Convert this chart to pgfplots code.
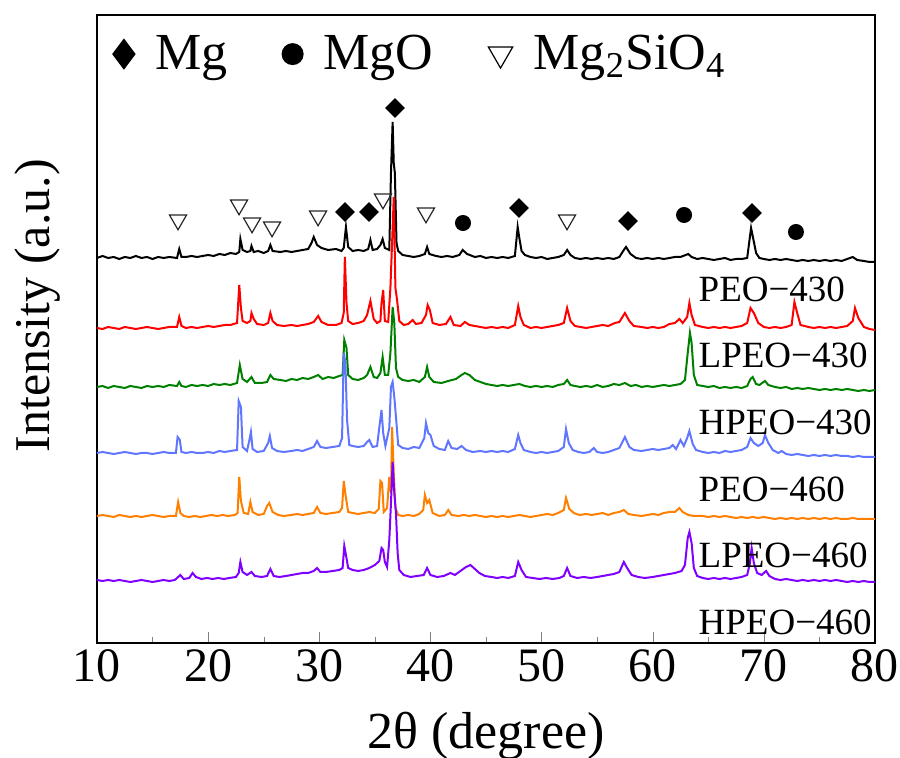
\documentclass[border=0pt]{standalone}
\usepackage{fontspec}
\setmainfont{Liberation Serif}
\usepackage{pgfplots}
\pgfplotsset{compat=1.18}
\definecolor{cgreen}{RGB}{0,128,0}
\definecolor{cblue}{RGB}{96,118,255}
\definecolor{corange}{RGB}{255,128,0}
\definecolor{cpurple}{RGB}{128,0,255}

\begin{document}
\begin{tikzpicture}
\useasboundingbox (-48.5pt,-57.5pt) rectangle (401.5pt,321.5pt);
\begin{axis}[
    scale only axis, width=389pt, height=314pt,
    xmin=10, xmax=80, ymin=0, ymax=628,
    xtick={10,20,...,80}, minor x tick num=1, xtick pos=bottom,
    ytick=\empty,
    tick align=inside, major tick length=5.5pt, minor tick length=3pt,
    /pgf/number format/assume math mode=true,
    tick label style={font=\fontsize{24}{28}\selectfont},
    xlabel={2θ (degree)}, ylabel={Intensity (a.u.)},
    label style={font=\fontsize{26}{30}\selectfont},
    xlabel style={yshift=-8pt},
    every axis y label/.style={at={(axis description cs:-0.077,0.537)}, rotate=90, anchor=center,
        font=\fontsize{25}{30}\selectfont},
    axis line style={line width=0.8pt},
    every axis plot/.append style={line width=1pt},
    legend columns=3,
    legend style={at={(axis description cs:0,1)}, anchor=north west, draw=none, fill=none,
        font=\fontsize{26}{30}\selectfont, inner xsep=8pt, inner ysep=8pt,
        /tikz/every odd column/.append style={column sep=8.5pt},
        /tikz/every even column/.append style={column sep=25.5pt}},
]
% legend symbols
\addlegendimage{only marks, mark=diamond*, mark size=7pt, black}
\addlegendentry{Mg}
\addlegendimage{only marks, mark=*, mark size=5pt, black}
\addlegendentry{MgO}
\addlegendimage{only marks, mark=triangle, mark size=7pt, mark options={rotate=180, line width=0.6pt}, black}
\addlegendentry{Mg\textsubscript{2}SiO\textsubscript{4}}

% HPEO-460 (top, black)
\addplot[black, forget plot] coordinates {
(10,385) (10.5,387) (11,385) (11.5,386) (12,384) (12.5,386) (13,385) (13.5,387) (14,385) (14.5,386) (15,384) (15.5,386) (16,385) (16.5,386) (17.2,385) (17.4,394) (17.6,386) (18,386) (18.5,387) (19,386) (19.5,387) (20,388) (20.5,387) (21,389) (21.5,388) (22,390) (22.5,389) (22.8,391) (22.9,404) (23.1,393) (23.5,391) (23.8,392) (23.9,397) (24.1,391) (24.5,392) (25,390) (25.4,392) (25.6,398) (25.8,392) (26.5,391) (27,392) (27.5,391) (28,392) (28.5,393) (29,394) (29.3,400) (29.5,406) (29.8,398) (30.2,395) (30.8,393) (31.5,394) (32,392) (32.2,395) (32.4,416) (32.6,396) (33,392) (33.5,393) (34,392) (34.4,394) (34.6,403) (34.8,393) (35.2,394) (35.5,398) (35.7,404) (35.9,395) (36.3,393) (36.45,470) (36.6,521) (36.7,480) (36.8,470) (36.95,400) (37.1,392) (37.5,388) (38,387) (38.5,386) (39,387) (39.5,389) (39.7,396) (39.9,389) (40.5,387) (41,386) (41.5,387) (42,386) (42.6,388) (42.9,393) (43.3,389) (44,386) (44.5,387) (45,385) (45.5,386) (46,385) (46.5,386) (47,385) (47.6,387) (47.85,416) (48.0,405) (48.2,392) (48.5,388) (49,386) (49.5,385) (50,386) (50.5,384) (51,385) (51.5,386) (52.0,388) (52.3,393) (52.6,388) (53,385) (53.5,384) (54,385) (54.5,384) (55,385) (55.5,384) (56,385) (56.5,384) (57,386) (57.4,393) (57.6,396) (58,389) (58.5,385) (59,384) (59.5,385) (60,384) (60.5,385) (61,384) (61.5,385) (62,386) (62.5,386) (63.2,389) (63.5,386) (64,384) (64.5,385) (65,384) (65.5,383) (66,384) (66.5,385) (67,383) (67.5,384) (68,384) (68.5,385) (68.85,415) (69.05,404) (69.3,390) (69.6,385) (70,384) (70.5,383) (71,384) (71.5,383) (72,384) (72.5,383) (73,382) (73.5,383) (74,382) (74.5,383) (75,382) (75.5,383) (76,382) (76.5,383) (77,382) (77.5,384) (78,386) (78.4,383) (79,382) (79.5,381) (80,381)
};
% red
\addplot[red, forget plot] coordinates {
(10,315) (10.5,314) (11,316) (11.5,315) (12,314) (12.5,316) (13,315) (13.5,314) (14,315) (14.5,316) (15,315) (15.5,314) (16,315) (16.5,316) (17.2,316) (17.4,326) (17.6,317) (18,315) (18.5,316) (19,315) (19.5,316) (20,317) (20.5,316) (21,317) (21.5,318) (22,318) (22.6,320) (22.8,358) (22.95,335) (23.1,322) (23.5,320) (23.8,322) (23.9,330) (24.1,324) (24.4,319) (25,318) (25.4,320) (25.6,330) (25.8,322) (26.2,318) (26.8,317) (27.5,318) (28,317) (28.5,318) (29,319) (29.5,321) (29.9,327) (30.2,321) (30.8,318) (31.5,318) (32.0,320) (32.2,330) (32.3,386) (32.45,340) (32.6,322) (33,319) (33.5,320) (34,322) (34.3,328) (34.6,342) (34.9,324) (35.2,320) (35.5,322) (35.6,340) (35.75,353) (35.9,322) (36.2,321) (36.4,355) (36.55,400) (36.7,446) (36.85,355) (37.0,343) (37.2,322) (37.6,318) (38,319) (38.4,323) (38.7,319) (39.2,320) (39.6,328) (39.75,338) (39.95,333) (40.2,320) (40.8,318) (41.4,319) (41.8,326) (42.1,318) (42.7,317) (43.1,321) (43.5,318) (44,317) (44.5,316) (45,315) (45.5,316) (46,315) (46.5,316) (47,315) (47.6,318) (47.9,337) (48.1,326) (48.4,318) (49,315) (49.5,316) (50,315) (50.5,316) (51,317) (51.5,318) (52.0,320) (52.3,335) (52.6,322) (53,317) (53.5,316) (54,315) (54.5,316) (55,317) (55.5,318) (56,317) (56.6,320) (57.0,321) (57.5,330) (57.9,322) (58.3,317) (59,316) (59.5,315) (60,316) (60.5,315) (61,316) (61.5,319) (62.0,320) (62.4,324) (62.7,320) (63.1,326) (63.3,340) (63.5,328) (63.8,318) (64.5,316) (65,315) (65.5,316) (66,315) (66.5,316) (67,315) (67.5,316) (68,317) (68.5,320) (68.8,335) (69.1,330) (69.5,320) (70,316) (70.5,315) (71,316) (71.5,315) (72,316) (72.5,318) (72.75,341) (73.0,330) (73.3,318) (74,316) (74.5,315) (75,316) (75.5,315) (76,316) (76.5,315) (77,316) (77.5,317) (78.0,322) (78.2,335) (78.5,325) (79,316) (79.5,314) (80,313)
};
% green
\addplot[cgreen, forget plot] coordinates {
(10,256) (10.5,257) (11,255) (11.5,257) (12,256) (12.5,255) (13,257) (13.5,256) (14,255) (14.5,257) (15,256) (15.5,257) (16,256) (16.5,258) (17.2,257) (17.4,261) (17.6,257) (18,256) (18.5,258) (19,257) (19.5,258) (20,257) (20.5,259) (21,258) (21.5,259) (22,258) (22.6,260) (22.85,278) (23.1,264) (23.5,261) (23.9,266) (24.2,260) (24.8,260) (25.3,261) (25.6,268) (25.9,264) (26.5,263) (27,262) (27.5,264) (28,263) (28.5,265) (29,264) (29.5,266) (29.9,268) (30.3,264) (30.8,266) (31.3,265) (31.8,267) (32.1,268) (32.25,303) (32.45,295) (32.6,268) (33,264) (33.5,263) (34,265) (34.3,268) (34.6,276) (34.9,266) (35.2,265) (35.5,270) (35.7,286) (35.9,268) (36.2,268) (36.4,290) (36.6,336) (36.75,320) (36.9,275) (37.1,266) (37.5,263) (38,262) (38.5,263) (39,261) (39.5,266) (39.7,276) (39.9,266) (40.3,261) (41,260) (41.6,262) (42.3,264) (42.8,268) (43.1,270) (43.5,268) (44,263) (44.5,261) (45,259) (45.5,258) (46,257) (46.5,258) (47,257) (47.5,258) (48,259) (48.5,257) (49,256) (49.5,257) (50,256) (50.5,257) (51,256) (51.5,258) (52.0,259) (52.3,263) (52.6,258) (53,257) (53.5,256) (54,257) (54.5,256) (55,258) (55.5,256) (56,257) (56.5,259) (57,258) (57.5,260) (58,257) (58.5,258) (59,256) (59.5,257) (60,256) (60.5,257) (61,258) (61.5,257) (62,258) (62.5,259) (62.9,263) (63.15,290) (63.35,310) (63.5,300) (63.7,268) (64,258) (64.5,257) (65,256) (65.5,257) (66,255) (66.5,256) (67,255) (67.5,256) (68,255) (68.5,257) (68.8,264) (69.0,266) (69.3,259) (69.6,258) (70.1,262) (70.4,258) (71,256) (71.5,255) (72,256) (72.5,254) (73,255) (73.5,254) (74,255) (74.5,254) (75,253) (75.5,254) (76,253) (76.5,254) (77,253) (77.5,254) (78,253) (78.5,252) (79,253) (79.5,252) (80,253)
};
% blue
\addplot[cblue, forget plot] coordinates {
(10,190) (10.5,191) (11,190) (11.5,189) (12,190) (12.5,191) (13,190) (13.5,189) (14,190) (14.5,190) (15,189) (15.5,190) (16,191) (16.5,190) (17.1,190) (17.25,206) (17.45,203) (17.6,191) (18,190) (18.5,191) (19,190) (19.5,190) (20,191) (20.5,190) (21,192) (21.5,191) (22,192) (22.6,193) (22.75,242) (22.95,236) (23.1,196) (23.5,192) (23.75,205) (23.85,211) (24.0,194) (24.4,191) (25.0,192) (25.4,200) (25.55,207) (25.75,195) (26.2,192) (26.8,191) (27.5,192) (28,193) (28.5,192) (29,194) (29.5,196) (29.8,202) (30.1,196) (30.6,195) (31.2,196) (31.8,197) (32.05,205) (32.2,290) (32.35,280) (32.5,223) (32.7,198) (33,197) (33.5,196) (34,197) (34.3,201) (34.5,203) (34.8,196) (35.2,197) (35.45,220) (35.6,233) (35.75,210) (35.95,197) (36.3,215) (36.45,256) (36.6,261) (36.75,246) (36.9,226) (37.1,198) (37.5,195) (38,194) (38.5,196) (39,195) (39.45,205) (39.6,220) (39.8,210) (40,208) (40.3,197) (40.8,194) (41.3,193) (41.6,202) (41.9,195) (42.4,194) (42.8,197) (43.2,193) (43.8,191) (44.5,192) (45,191) (45.5,192) (46,191) (46.5,192) (47,191) (47.6,194) (47.9,208) (48.1,200) (48.4,193) (49,191) (49.5,190) (50,191) (50.5,190) (51,191) (51.5,192) (52.0,196) (52.2,214) (52.45,200) (52.8,193) (53.3,191) (53.8,190) (54.3,191) (54.7,195) (55.0,191) (55.5,190) (56,191) (56.5,193) (57.0,195) (57.5,206) (57.9,196) (58.3,193) (59,192) (59.5,193) (60,194) (60.5,193) (61,194) (61.5,195) (61.8,198) (62.1,194) (62.5,203) (62.8,197) (63.1,205) (63.3,212) (63.6,199) (63.9,193) (64.5,191) (65,190) (65.5,191) (66,190) (66.5,192) (67,191) (67.5,192) (68,193) (68.5,196) (68.8,205) (69.1,200) (69.5,197) (69.9,200) (70.1,208) (70.4,200) (70.8,193) (71.3,190) (71.6,192) (72,189) (72.5,188) (73,189) (73.5,188) (74,187) (74.5,188) (75,187) (75.5,188) (76,187) (76.5,188) (77,187) (77.5,187) (78,186) (78.5,187) (79,186) (79.5,186) (80,186)
};
% orange
\addplot[corange, forget plot] coordinates {
(10,127) (10.5,128) (11,127) (11.5,126) (12,128) (12.5,127) (13,126) (13.5,127) (14,126) (14.5,127) (15,128) (15.5,127) (16,126) (16.5,127) (17.1,127) (17.3,141) (17.5,130) (17.8,127) (18.3,126) (18.8,127) (19.3,126) (19.8,127) (20.3,128) (20.8,127) (21.3,128) (21.8,127) (22.4,128) (22.65,130) (22.8,166) (22.95,142) (23.2,130) (23.6,129) (23.8,141) (24.0,131) (24.5,128) (25.0,129) (25.3,137) (25.5,140) (25.8,131) (26.3,128) (26.8,127) (27.5,128) (28,129) (28.5,128) (29,129) (29.5,130) (29.8,136) (30.1,130) (30.6,129) (31.2,130) (31.8,131) (32.05,135) (32.2,162) (32.4,145) (32.6,131) (33,130) (33.5,129) (34,130) (34.5,131) (35,130) (35.35,134) (35.5,162) (35.65,160) (35.8,131) (36.1,135) (36.3,166) (36.45,150) (36.55,216) (36.7,170) (36.85,135) (37.1,128) (37.5,127) (38,128) (38.5,127) (39,129) (39.35,133) (39.5,148) (39.7,140) (39.9,143) (40.2,130) (40.8,127) (41.3,128) (41.6,133) (41.9,128) (42.5,127) (43,128) (43.5,127) (44,128) (44.5,127) (45,126) (45.5,127) (46,126) (46.5,127) (47,126) (47.5,127) (48,128) (48.5,127) (49,126) (49.5,127) (50,128) (50.5,129) (51,128) (51.5,130) (52.0,133) (52.2,145) (52.5,134) (52.9,130) (53.4,128) (54,129) (54.5,128) (55,129) (55.5,130) (56,128) (56.5,130) (57.0,131) (57.4,133) (57.8,129) (58.3,128) (59,127) (59.5,128) (60,129) (60.5,128) (61,130) (61.5,131) (62.0,131) (62.4,135) (62.7,131) (63.2,128) (63.7,127) (64.5,127) (65,126) (65.5,127) (66,126) (66.5,127) (67,126) (67.5,125) (68,126) (68.5,125) (69,126) (69.5,125) (70,126) (70.5,125) (71,124) (71.5,125) (72,124) (72.5,125) (73,124) (73.5,125) (74,124) (74.5,125) (75,124) (75.5,125) (76,124) (76.5,125) (77,124) (77.5,124) (78,125) (78.5,124) (79,124) (79.5,124) (80,124)
};
% purple
\addplot[cpurple, forget plot] coordinates {
(10,63) (10.5,62) (11,63) (11.5,62) (12,63) (12.5,62) (13,61) (13.5,62) (14,63) (14.5,62) (15,61) (15.5,62) (16,63) (16.5,62) (17,63) (17.5,68) (17.8,64) (18.3,65) (18.6,70) (18.9,66) (19.4,64) (19.9,65) (20.4,64) (20.9,65) (21.4,64) (21.9,65) (22.5,66) (22.75,70) (22.9,81) (23.1,71) (23.5,68) (23.9,71) (24.2,67) (24.8,66) (25.3,67) (25.6,74) (25.9,67) (26.4,66) (27,67) (27.5,68) (28,69) (28.5,70) (29,70) (29.5,72) (29.8,75) (30.1,71) (30.6,71) (31.2,72) (31.8,73) (32.1,75) (32.25,97) (32.4,88) (32.6,75) (33,73) (33.5,72) (34,73) (34.5,75) (35,78) (35.4,82) (35.6,95) (35.75,93) (35.9,81) (36.1,76) (36.3,103) (36.45,140) (36.6,181) (36.75,150) (36.9,130) (37.05,90) (37.2,73) (37.6,68) (38.2,66) (38.8,67) (39.4,68) (39.7,75) (40.0,68) (40.6,66) (41.2,67) (41.8,70) (42.2,68) (42.7,72) (43.2,76) (43.6,78) (44.0,74) (44.4,70) (44.9,67) (45.5,66) (46,65) (46.5,66) (47,65) (47.6,67) (47.9,81) (48.2,73) (48.6,66) (49.2,65) (49.8,64) (50.4,65) (51,64) (51.6,65) (52.0,67) (52.3,75) (52.6,67) (53.2,65) (53.8,66) (54.4,65) (55,66) (55.5,67) (56,68) (56.5,69) (57.0,71) (57.4,81) (57.7,75) (58.1,68) (58.7,66) (59.3,65) (60,66) (60.5,67) (61,68) (61.5,69) (62,70) (62.6,72) (62.9,78) (63.15,105) (63.3,111) (63.5,100) (63.7,75) (64,67) (64.5,65) (65,64) (65.5,65) (66,64) (66.5,65) (67,64) (67.5,65) (68,66) (68.5,68) (68.75,80) (68.9,95) (69.1,80) (69.4,70) (69.8,68) (70.2,72) (70.5,67) (71,64) (71.5,63) (72,64) (72.5,63) (73,62) (73.5,63) (74,62) (74.5,63) (75,62) (75.5,63) (76,62) (76.5,63) (77,62) (77.5,61) (78,62) (78.5,61) (79,62) (79.5,61) (80,61)
};

% phase markers
\addplot[only marks, mark=square*, mark size=3pt, mark options={rotate=45}, black, forget plot] coordinates {
(32.31,431) (34.47,431) (36.81,535) (47.97,435) (57.78,422) (68.93,430)
};
\addplot[only marks, mark=*, mark size=3.5pt, black, forget plot] coordinates {
(42.93,420) (62.82,428) (72.89,411)
};
\addplot[only marks, mark=triangle, mark size=4.9pt, mark options={rotate=180, line width=0.6pt}, black!85, forget plot] coordinates {
(17.29,423) (22.78,438) (23.95,420) (25.75,416) (29.89,427) (35.73,444) (39.60,430) (52.29,423)
};

% sample names
\begin{scope}[every node/.style={anchor=base west, inner sep=0pt, font=\fontsize{18.5}{22}\selectfont}]
\node at (axis cs:64.1,341) {PEO−430};
\node at (axis cs:64.1,275) {LPEO−430};
\node at (axis cs:64.1,208) {HPEO−430};
\node at (axis cs:64.1,141) {PEO−460};
\node at (axis cs:64.1,75) {LPEO−460};
\node at (axis cs:64.1,8) {HPEO−460};
\end{scope}
\end{axis}
\end{tikzpicture}
\end{document}
